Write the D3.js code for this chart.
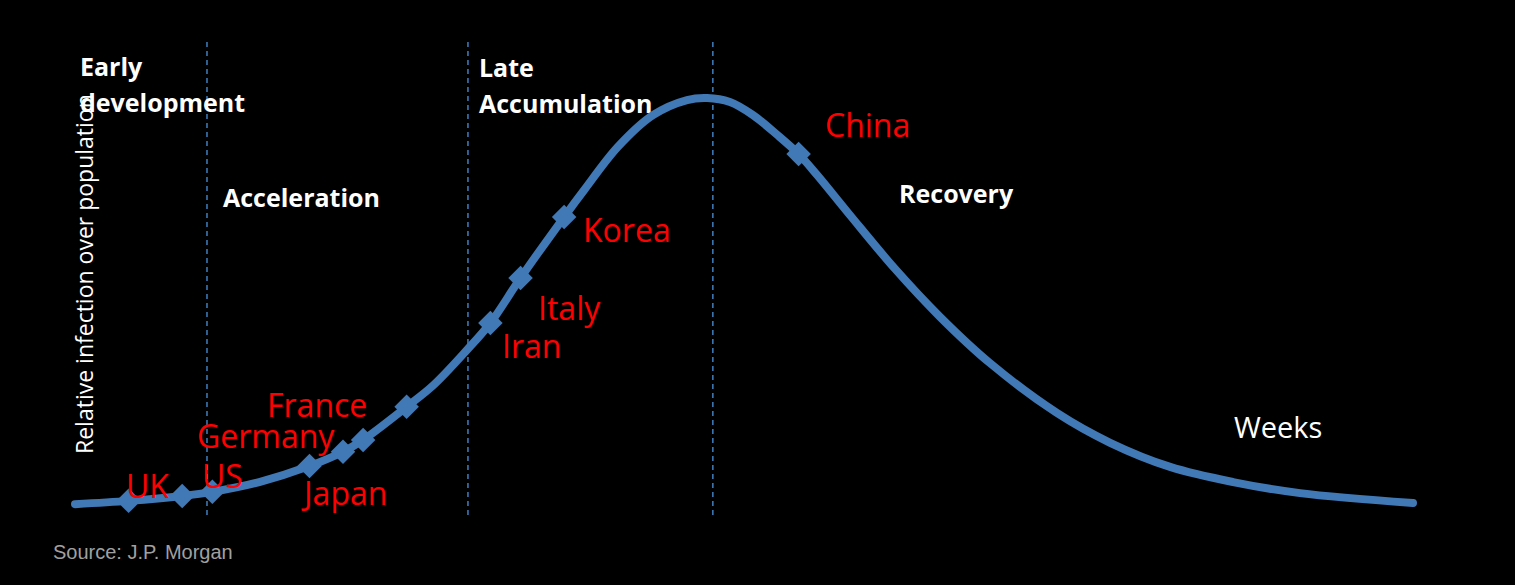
<!DOCTYPE html>
<html>
<head>
<meta charset="utf-8">
<script src="https://cdn.jsdelivr.net/npm/d3@7"></script>
<style>
  html, body { margin: 0; padding: 0; background: #000; }
  svg { display: block; }
</style>
</head>
<body>
<script>
// curve: weeks since outbreak vs relative infection (peak = 100)
const weeks = [0, 1.6, 3.2, 4.1, 5.5, 7.0, 8.0, 8.6, 9.9, 10.7, 11.7, 12.4, 13.3, 14.6, 15.2,
  16.2, 17.25, 18.27, 18.87, 19.55, 20.24, 20.96, 21.6, 22.15, 23.13, 24.48, 25.82,
  27.31, 29.31, 30.9, 32.69, 34.57, 36.57, 39.94];
const infection = [0.7, 1.5, 2.7, 3.7, 6.1, 10.0, 13.5, 16.4, 24.5, 29.8, 38.4, 45.0, 56.0, 70.9, 77.5,
  88.0, 95.8, 99.5, 100, 99.0, 95.8, 91.0, 86.3, 81.2, 71.4, 58.2, 46.5,
  35.2, 23.0, 15.7, 9.8, 6.1, 3.4, 1.0];

// country markers on the curve
const countries = ["UK", "", "US", "Japan", "Germany", "France", "", "Iran", "Italy", "Korea", "China"];
const countryWeeks = [1.6, 3.2, 4.1, 7.0, 8.0, 8.6, 9.9, 12.4, 13.3, 14.6, 21.6];
const countryValues = [1.5, 2.7, 3.7, 10.0, 13.5, 16.4, 24.5, 45.0, 56.0, 70.9, 86.3];

// phase boundaries (weeks)
const phaseBreaks = [3.94, 11.73, 19.04];

// text labels: country label anchors (left, baseline) in pixels
const countryLabelPos = {
  UK: [126, 498], US: [202, 488], Japan: [304, 505], Germany: [197, 448],
  France: [267, 417], Iran: [502, 358], Italy: [538, 320], Korea: [583, 242], China: [825, 137]
};
const phaseLabels = [
  { lines: ["Early", "development"], x: 80, y: 76 },
  { lines: ["Acceleration"], x: 223, y: 207 },
  { lines: ["Late", "Accumulation"], x: 479, y: 77 },
  { lines: ["Recovery"], x: 899, y: 203 }
];

const width = 1515, height = 585;
const blue = "#4179b6";

const svg = d3.select("body").append("svg")
    .attr("width", width)
    .attr("height", height)
    .style("background", "#000");

const x = d3.scaleLinear().domain([0, 40]).range([75, 1415]);
const y = d3.scaleLinear().domain([0, 100]).range([507, 98]);

// dashed phase lines
svg.selectAll(".phase")
    .data(phaseBreaks)
    .enter().append("line")
    .attr("class", "phase")
    .attr("x1", d => x(d)).attr("x2", d => x(d))
    .attr("y1", 42).attr("y2", 515)
    .attr("stroke", "#3f7fc0")
    .attr("stroke-width", 1.5)
    .attr("stroke-dasharray", "5,4");

// y axis title
svg.append("text")
    .attr("transform", "translate(93,454) rotate(-90)")
    .attr("font-family", "'Open Sans', sans-serif")
    .attr("font-size", 23)
    .attr("fill", "#fff")
    .text("Relative infection over population");

// phase labels
phaseLabels.forEach(function(p) {
    const t = svg.append("text")
        .attr("x", p.x).attr("y", p.y)
        .attr("font-family", "'Open Sans', sans-serif")
        .attr("font-weight", "bold")
        .attr("font-size", 25)
        .attr("fill", "#fff");
    p.lines.forEach(function(l, i) {
        t.append("tspan").attr("x", p.x).attr("dy", i === 0 ? 0 : 36).text(l);
    });
});

// the curve
const pts = weeks.map((w, i) => [w, infection[i]]);
const line = d3.line()
    .x(d => x(d[0]))
    .y(d => y(d[1]))
    .curve(d3.curveCatmullRom.alpha(0.5));

svg.append("path")
    .datum(pts)
    .attr("d", line)
    .attr("fill", "none")
    .attr("stroke", blue)
    .attr("stroke-width", 8)
    .attr("stroke-linecap", "round");

// diamond markers
const markers = countries.map((c, i) => ({ name: c, w: countryWeeks[i], v: countryValues[i] }));
svg.selectAll(".marker")
    .data(markers)
    .enter().append("path")
    .attr("class", "marker")
    .attr("d", d3.symbol().type(d3.symbolSquare).size(300))
    .attr("transform", d => "translate(" + x(d.w) + "," + y(d.v) + ") rotate(45)")
    .attr("fill", blue);

// country names
svg.selectAll(".country")
    .data(markers.filter(d => d.name))
    .enter().append("text")
    .attr("class", "country")
    .attr("x", d => countryLabelPos[d.name][0])
    .attr("y", d => countryLabelPos[d.name][1])
    .attr("font-family", "'Open Sans', sans-serif")
    .attr("font-size", 32)
    .attr("fill", "#ff0000")
    .text(d => d.name);

// x axis title
svg.append("text")
    .attr("x", 1234).attr("y", 438)
    .attr("font-family", "'Open Sans', sans-serif")
    .attr("font-size", 29)
    .attr("fill", "#fff")
    .text("Weeks");

// source
svg.append("text")
    .attr("x", 53).attr("y", 559)
    .attr("font-family", "'Liberation Sans', Arial, sans-serif")
    .attr("font-size", 20)
    .attr("fill", "#a0a0a0")
    .text("Source: J.P. Morgan");
</script>
</body>
</html>
